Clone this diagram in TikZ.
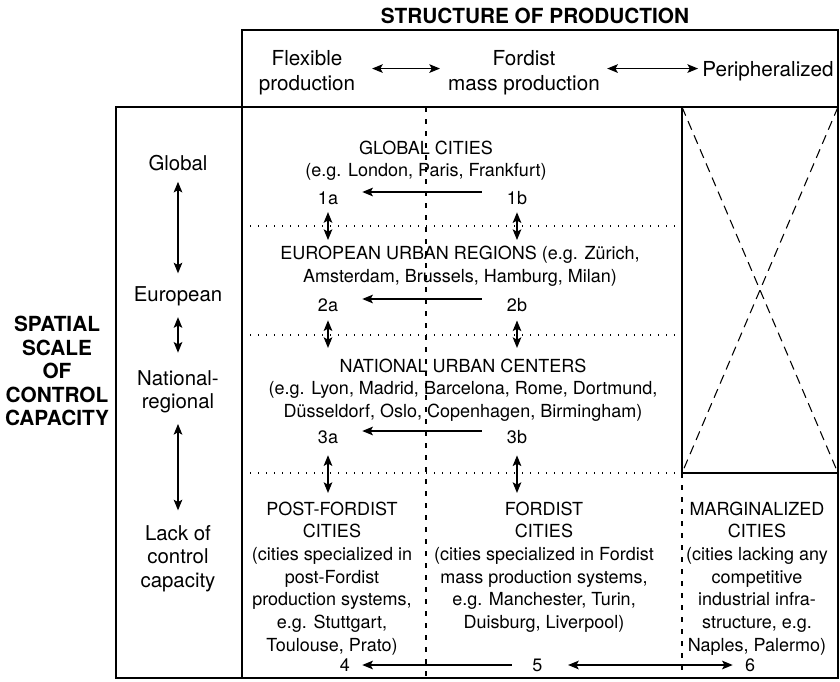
\documentclass[tikz,border=0pt]{standalone}
\usepackage{fontspec}
\setmainfont{TeX Gyre Heros}
\usetikzlibrary{arrows.meta}
\tikzset{
  body/.style={inner sep=0pt, align=center, font=\fontsize{13.5}{17}\selectfont},
  hdr/.style={inner sep=0pt, align=center, font=\fontsize{15.5}{18.75}\selectfont},
  scl/.style={inner sep=0pt, align=center, font=\fontsize{15.3}{17.8}\selectfont},
  heading/.style={inner sep=0pt, align=center, font=\fontsize{15.6}{17.6}\selectfont\bfseries},
  num/.style={inner sep=0pt, font=\fontsize{13.5}{17}\selectfont},
  frame/.style={line width=0.9pt},
  dotrule/.style={line width=0.9pt, dash pattern=on 1pt off 5pt},
  dashrule/.style={line width=0.8pt, dash pattern=on 4pt off 5pt},
  crossrule/.style={line width=0.8pt, dash pattern=on 7pt off 4.5pt},
  arr/.style={line width=0.85pt}
}

\begin{document}
\begin{tikzpicture}[x=0.75pt, y=-0.75pt, >={Stealth[length=8pt,width=6.5pt,inset=1.8pt]}]
\useasboundingbox (0,0) rectangle (840,682);
% frames
\draw[frame] (242,30) rectangle (838,107);
\draw[frame] (116,107) rectangle (838,678);
\draw[frame] (242,107) -- (242,678);
\draw[frame] (682,107) -- (682,473) -- (838,473);
% column and row rules
\draw[dashrule] (426,107) -- (426,678);
\draw[dashrule] (682,473) -- (682,678);
\draw[dotrule] (242,226) -- (682,226);
\draw[dotrule] (242,335) -- (682,335);
\draw[dotrule] (242,473) -- (682,473);
% crossed out cell
\draw[crossrule] (682,107) -- (838,473);
\draw[crossrule] (838,107) -- (682,473);

% headings
\node[heading, anchor=north] (title) at (535,8) {STRUCTURE OF PRODUCTION};
\node[heading, anchor=north] (side) at (57,316) {SPATIAL\\SCALE\\OF\\CONTROL\\CAPACITY};
\node[hdr, anchor=north] (hdrflex) at (307,50) {Flexible\\production};
\node[hdr, anchor=north] (hdrford) at (524,50) {Fordist\\mass production};
\node[hdr, anchor=north] (hdrperi) at (768,61) {Peripheralized};

% scale column
\node[scl, anchor=north] (glob) at (178,155) {Global};
\node[scl, anchor=north] (euro) at (178,286) {European};
\node[scl, anchor=north] (natl) at (178,370) {National-\\regional};
\node[scl, anchor=north] (lack) at (178,525) {Lack of\\control\\capacity};

% city types
\node[body, anchor=north] (cityglob) at (426,140.5) {GLOBAL CITIES\\(e.g. London, Paris, Frankfurt)};
\node[body, anchor=north] (cityeuro) at (460,246) {EUROPEAN URBAN REGIONS (e.g. Zürich,\\Amsterdam, Brussels, Hamburg, Milan)};
\node[body, anchor=north] (citynatl) at (463,358.5) {NATIONAL URBAN CENTERS\\(e.g. Lyon, Madrid, Barcelona, Rome, Dortmund,\\Düsseldorf, Oslo, Copenhagen, Birmingham)};
\node[body, anchor=north] (cellpost) at (332,501.5) {POST-FORDIST\\CITIES\\(cities specialized in\\post-Fordist\\production systems,\\e.g. Stuttgart,\\Toulouse, Prato)};
\node[body, anchor=north] (cellford) at (544,501.5) {FORDIST\\CITIES\\(cities specialized in Fordist\\mass production systems,\\e.g. Manchester, Turin,\\Duisburg, Liverpool)};
\node[body, anchor=north] (cellmarg) at (757,501.5) {MARGINALIZED\\CITIES\\(cities lacking any\\competitive\\industrial infra-\\structure, e.g.\\Naples, Palermo)};

% numbers
\node[num] (n1a) at (328,198) {1a};
\node[num] (n1b) at (517,198) {1b};
\node[num] (n2a) at (328,305) {2a};
\node[num] (n2b) at (517,305) {2b};
\node[num] (n3a) at (328,437) {3a};
\node[num] (n3b) at (517,437) {3b};
\node[num] (n4) at (345,665) {4};
\node[num] (n5) at (537.5,665) {5};
\node[num] (n6) at (750,665) {6};

% header arrows
\draw[arr, <->, shorten <=12.5pt, shorten >=6pt] ([yshift=3pt]hdrflex.east) -- ([yshift=3pt]hdrflex.east -| hdrford.west);
\draw[arr, <->, shorten <=5.4pt, shorten >=3pt] ([yshift=3pt]hdrford.east) -- ([yshift=3pt]hdrford.east -| hdrperi.west);

% scale arrows
\draw[arr, <->, shorten <=8pt, shorten >=9.5pt] (glob) -- (euro);
\draw[arr, <->, shorten <=8.5pt, shorten >=13pt] (euro) -- (natl);
\draw[arr, <->, shorten <=7.8pt, shorten >=11pt] (natl) -- (lack);

% b to a
\draw[arr, ->, shorten <=18.7pt, shorten >=18pt] ([yshift=4.5pt]n1b.west) -- ([yshift=4.5pt]n1a.east);
\draw[arr, ->, shorten <=18.7pt, shorten >=18pt] ([yshift=4.5pt]n2b.west) -- ([yshift=4.5pt]n2a.east);
\draw[arr, ->, shorten <=18.7pt, shorten >=18pt] ([yshift=4.5pt]n3b.west) -- ([yshift=4.5pt]n3a.east);

% between rows
\draw[arr, <->, shorten <=5.5pt, shorten >=4.5pt] (n1a) -- (n1a |- cityeuro.north);
\draw[arr, <->, shorten <=5.5pt, shorten >=4.5pt] (n1b) -- (n1b |- cityeuro.north);
\draw[arr, <->, shorten <=6.4pt, shorten >=7.9pt] (n2a) -- (n2a |- citynatl.north);
\draw[arr, <->, shorten <=6.4pt, shorten >=7.9pt] (n2b) -- (n2b |- citynatl.north);
\draw[arr, <->, shorten <=8.6pt, shorten >=6.4pt] (n3a) -- (n3a |- cellpost.north);
\draw[arr, <->, shorten <=8.6pt, shorten >=6.4pt] (n3b) -- (n3b |- cellford.north);

% bottom row
\draw[arr, ->, shorten <=15.4pt, shorten >=9pt] (n5) -- (n4);
\draw[arr, <->, shorten <=19pt, shorten >=9pt] (n5) -- (n6);
\end{tikzpicture}
\end{document}
